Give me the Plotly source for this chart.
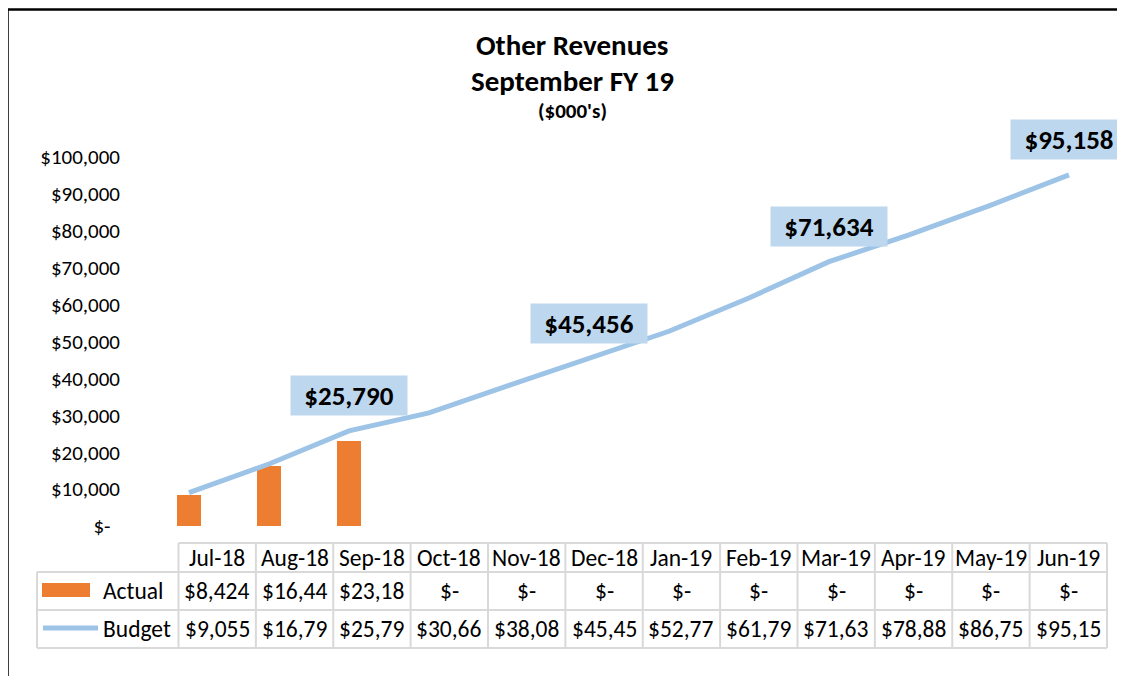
import plotly.graph_objects as go

# ---------------- data ----------------
months = ["Jul-18", "Aug-18", "Sep-18", "Oct-18", "Nov-18", "Dec-18",
          "Jan-19", "Feb-19", "Mar-19", "Apr-19", "May-19", "Jun-19"]
actual = [8424, 16440, 23180, None, None, None, None, None, None, None, None, None]
budget = [9055, 16790, 25790, 30660, 38080, 45456, 52770, 61790, 71634, 78880, 86750, 95158]
label_idx = [2, 5, 8, 11]  # quarter-end budget labels
y_ticks = [0, 10000, 20000, 30000, 40000, 50000, 60000, 70000, 80000, 90000, 100000]

title1 = "Other Revenues"
title2 = "September FY 19"
title3 = "($000's)"

# the page body has an 8px margin: size the figure so it fits the window
OFF = 8
W, H = 1125 - OFF, 676 - OFF
FONT = "Carlito, Calibri, Lato, sans-serif"
ORANGE = "#ED7D31"
BLUE = "#9DC3E6"
LABEL_BG = "#BDD7EE"
GRID = "#D9D9D9"


def px(x):
    return (x - OFF) / W


def py(y):
    return 1 - (y - OFF) / H


def money(v):
    if v is None or v == 0:
        return "$-"
    return "${:,}".format(v)


def cell(v):
    # the reference table truncates values to the cell width (6 characters)
    return money(v)[:6]


fig = go.Figure()

idx = list(range(len(months)))
fig.add_trace(go.Bar(x=idx, y=actual,
                     marker=dict(color=ORANGE, line=dict(width=0)), width=0.31, name="Actual",
                     showlegend=False))
fig.add_trace(go.Scatter(x=idx, y=budget, mode="lines",
                         line=dict(color=BLUE, width=5), name="Budget",
                         showlegend=False))

# plot area geometry (reference pixels)
x_left, x_right = 149, 1109
y_bottom = 526
px_per_unit = (526 - 157) / 100000
y_max = 105000
y_top = y_bottom - y_max * px_per_unit

fig.update_layout(
    width=W, height=H,
    margin=dict(l=0, r=0, t=0, b=0, autoexpand=False),
    paper_bgcolor="white", plot_bgcolor="white",
    font=dict(family=FONT, size=21, color="black"),
    bargap=0,
    xaxis=dict(domain=[px(x_left), px(x_right)], range=[-0.5, 11.5],
               showticklabels=False, showgrid=False, zeroline=False,
               showline=False, ticks=""),
    yaxis=dict(domain=[py(y_bottom), py(y_top)], range=[0, y_max],
               tickvals=y_ticks,
               ticktext=[money(v) + ("\u00a0\u00a0" if v == 0 else "") for v in y_ticks],
               showgrid=False, zeroline=False, showline=False, ticks="",
               ticklabelstandoff=28,
               tickfont=dict(family=FONT, size=21, color="black")),
)

annotations = []


def txt(text, x, y, size, xanchor="center", bold=False):
    return dict(text=("<b>%s</b>" % text) if bold else text, x=px(x), y=py(y),
                xref="paper", yref="paper", xanchor=xanchor, yanchor="middle",
                showarrow=False, font=dict(size=size, family=FONT, color="black"))


# titles
annotations.append(txt(title1, 572, 45, 29, bold=True))
annotations.append(txt(title2, 572, 81, 29, bold=True))
annotations.append(txt(title3, 572, 111, 21, bold=True))

# data labels
for i in label_idx:
    annotations.append(dict(text="<b>%s</b>" % money(budget[i]), x=i, y=budget[i],
                            xref="x", yref="y", xanchor="center", yanchor="middle",
                            showarrow=False, yshift=35,
                            bgcolor=LABEL_BG, width=106, height=29, borderpad=5,
                            font=dict(size=27, family=FONT, color="black")))

shapes = []
# outer frame (top edge kept just inside the figure)
shapes.append(dict(type="rect", xref="paper", yref="paper",
                   x0=px(7.5), x1=1.02, y0=-0.02, y1=1 - 1.4 / H,
                   line=dict(color="black", width=2.5), fillcolor="rgba(0,0,0,0)"))

# data table
col_l, col_r = 178.5, 1107
n = len(months)
col_w = (col_r - col_l) / n
row_y = [543, 572, 610, 648]
label_l = 37
for j, yy in enumerate(row_y):
    x0 = col_l if j == 0 else label_l
    shapes.append(dict(type="line", xref="paper", yref="paper",
                       x0=px(x0), x1=px(col_r), y0=py(yy), y1=py(yy),
                       line=dict(color=GRID, width=2)))
shapes.append(dict(type="line", xref="paper", yref="paper",
                   x0=px(label_l), x1=px(label_l), y0=py(row_y[1]), y1=py(row_y[3]),
                   line=dict(color=GRID, width=2)))
for k in range(n + 1):
    xx = col_l + k * col_w
    shapes.append(dict(type="line", xref="paper", yref="paper",
                       x0=px(xx), x1=px(xx), y0=py(row_y[0]), y1=py(row_y[3]),
                       line=dict(color=GRID, width=2)))

row_c = [(row_y[0] + row_y[1]) / 2, (row_y[1] + row_y[2]) / 2, (row_y[2] + row_y[3]) / 2]
TS = 23.5
for k, m in enumerate(months):
    cx = col_l + (k + 0.5) * col_w
    annotations.append(txt(m, cx, row_c[0], TS))
    annotations.append(txt(cell(actual[k]), cx, row_c[1], TS))
    annotations.append(txt(cell(budget[k]), cx, row_c[2], TS))

# legend keys in table
shapes.append(dict(type="rect", xref="paper", yref="paper",
                   x0=px(42), x1=px(90), y0=py(597), y1=py(583),
                   fillcolor=ORANGE, line=dict(width=0)))
shapes.append(dict(type="line", xref="paper", yref="paper",
                   x0=px(43), x1=px(98), y0=py(628), y1=py(628),
                   line=dict(color=BLUE, width=5)))
annotations.append(txt("Actual", 101, row_c[1], TS, xanchor="left"))
annotations.append(txt("Budget", 101, row_c[2], TS, xanchor="left"))

fig.update_layout(annotations=annotations, shapes=shapes)

fig.write_html("out.html")
